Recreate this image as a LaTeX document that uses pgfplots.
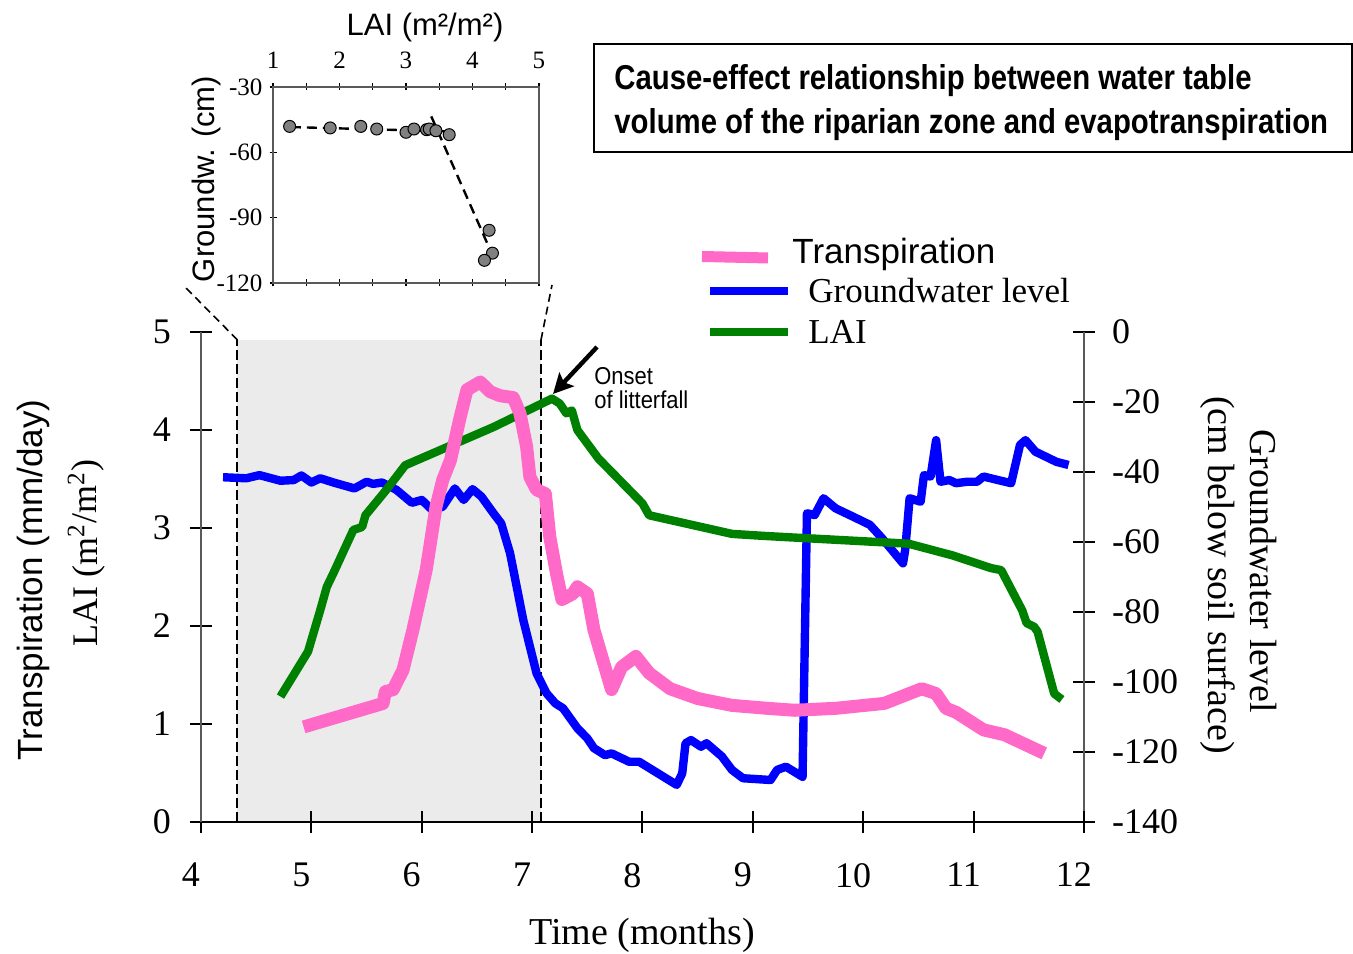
\documentclass[border=0pt]{standalone}
\usepackage{pgfplots}
\pgfplotsset{compat=1.18}
\usepackage{fontspec}
\setmainfont{Liberation Serif}
\setsansfont{Liberation Sans}
\newfontfamily\narrowbf{Liberation Sans Bold}[FakeStretch=0.85]
\newfontfamily\narrowsf{Liberation Sans}[FakeStretch=0.9]
\usetikzlibrary{arrows.meta}
\definecolor{tpink}{RGB}{255,105,200}
\definecolor{lgreen}{RGB}{0,128,0}
\definecolor{gwblue}{RGB}{0,0,255}
\definecolor{shade}{RGB}{235,235,235}
\definecolor{axgray}{RGB}{90,90,90}
\newcommand{\fs}[1]{\fontsize{#1}{#1}\selectfont}

\pgfplotstableread{
x y
4.93 0.97
5.65 1.21
5.67 1.33
5.74 1.35
5.83 1.55
5.92 1.96
6.04 2.57
6.13 3.22
6.19 3.49
6.26 3.69
6.35 4.14
6.41 4.41
6.53 4.49
6.62 4.39
6.71 4.35
6.83 4.33
6.89 4.17
6.95 3.83
6.98 3.52
7.04 3.39
7.12 3.35
7.16 2.91
7.22 2.54
7.27 2.27
7.37 2.33
7.41 2.40
7.50 2.33
7.56 1.96
7.72 1.35
7.81 1.58
7.94 1.69
8.06 1.52
8.25 1.36
8.50 1.26
8.81 1.19
9.13 1.16
9.38 1.14
9.75 1.16
10.19 1.21
10.53 1.36
10.66 1.31
10.75 1.16
10.84 1.12
11.09 0.94
11.28 0.89
11.64 0.70
}\transp

\pgfplotstableread{
x y
4.72 1.28
4.97 1.74
5.08 2.16
5.14 2.40
5.20 2.54
5.38 2.98
5.46 3.01
5.49 3.13
5.68 3.39
5.85 3.64
6.65 4.03
7.18 4.32
7.25 4.27
7.31 4.17
7.36 4.20
7.41 4.00
7.60 3.71
8.00 3.25
8.06 3.13
8.81 2.94
9.09 2.92
9.25 2.91
10.41 2.84
10.81 2.72
11.16 2.59
11.25 2.57
11.44 2.16
11.48 2.03
11.55 1.99
11.58 1.94
11.73 1.31
11.80 1.25
}\lai

\pgfplotstableread{
x y
4.20 -41.5
4.41 -41.8
4.53 -40.9
4.72 -42.5
4.84 -42.3
4.91 -41.0
5.00 -43.0
5.08 -41.8
5.20 -43.0
5.39 -44.7
5.50 -42.8
5.56 -43.4
5.64 -43.0
5.77 -45.1
5.91 -48.8
6.00 -48.0
6.10 -51.0
6.19 -49.9
6.30 -44.7
6.38 -48.0
6.46 -44.9
6.54 -47.0
6.65 -51.8
6.72 -54.7
6.80 -63.2
6.92 -82.3
7.04 -97.5
7.13 -103.2
7.21 -106.1
7.28 -107.5
7.41 -113.2
7.50 -116.1
7.56 -118.9
7.66 -120.9
7.72 -120.4
7.88 -122.8
7.97 -122.8
8.31 -129.4
8.36 -126.1
8.39 -117.5
8.44 -116.6
8.53 -118.5
8.58 -117.5
8.72 -121.3
8.81 -125.1
8.91 -127.5
9.16 -128.0
9.22 -125.1
9.30 -124.2
9.45 -127.1
9.49 -51.8
9.56 -52.3
9.64 -47.5
9.75 -50.4
9.91 -52.8
10.06 -55.1
10.17 -58.9
10.36 -66.1
10.38 -62.3
10.42 -47.5
10.52 -48.5
10.55 -40.9
10.61 -41.3
10.66 -30.9
10.70 -42.8
10.78 -42.3
10.84 -43.2
10.94 -42.8
11.03 -42.8
11.09 -41.3
11.22 -42.3
11.34 -43.2
11.42 -32.3
11.47 -30.9
11.56 -34.2
11.75 -37.1
11.86 -38.0
}\gw

\pgfplotstableread{
x y
1.25 -48.1
1.86 -48.8
2.32 -48.1
2.56 -49.3
3.00 -50.8
3.12 -49.3
3.31 -49.6
3.35 -49.3
3.45 -50.1
3.65 -51.9
4.25 -95.8
4.30 -106.3
4.18 -109.6
}\inset

\begin{document}
\begin{tikzpicture}
\begin{scope}[shift={(-100.5pt,411pt)}, x=0.5pt, y=-0.5pt]
  \path[use as bounding box] (0,0) rectangle (1353,953);
\end{scope}

% groundwater (right axis)
\begin{axis}[at={(0pt,0pt)}, anchor=south west,
  width=441.5pt, height=245pt, scale only axis,
  xmin=4, xmax=12, ymin=-140, ymax=0,
  hide x axis, axis y line*=right,
  axis line style={-, line width=1pt, axgray},
  ytick={-140,-120,...,0},
  tick align=center, major tick length=11pt,
  tick style={line width=1pt, black},
  yticklabel style={font=\fs{18}, anchor=west, xshift=5pt},
  /pgf/number format/assume math mode=true,
  clip=false]
  \addplot[draw=none, fill=shade] coordinates {(4.33,-140) (4.33,-2.3) (7.08,-2.3) (7.08,-140)} -- cycle;
  \addplot[black, line width=1pt, dash pattern=on 5pt off 2pt] coordinates {(4.33,-140) (4.33,-2.3)};
  \addplot[black, line width=1pt, dash pattern=on 5pt off 2pt] coordinates {(7.08,-140) (7.08,-2.3)};
  \addplot[gwblue, line width=4.2pt, line join=round] table {\gw};
\end{axis}

% transpiration and LAI (left axis)
\begin{axis}[at={(0pt,0pt)}, anchor=south west,
  width=441.5pt, height=245pt, scale only axis,
  xmin=4, xmax=12, ymin=0, ymax=5,
  axis x line*=bottom, axis y line*=left,
  xtick={4,...,12}, ytick={0,...,5},
  tick align=center, major tick length=11pt,
  tick style={line width=1pt, black},
  x axis line style={-, line width=1pt, black},
  y axis line style={-, line width=1pt, axgray},
  ticklabel style={font=\fs{18}},
  xticklabel style={xshift=-5pt, yshift=-11.5pt},
  yticklabel style={xshift=-6pt},
  /pgf/number format/assume math mode=true,
  clip=false]
  \addplot[lgreen, line width=4.2pt, line join=round] table {\lai};
  \addplot[tpink, line width=6.5pt, line join=round] table {\transp};
\end{axis}

% inset
\begin{axis}[at={(36pt,269.5pt)}, anchor=south west,
  width=133pt, height=98pt, scale only axis,
  xmin=1, xmax=5, ymin=-120, ymax=-30,
  xtick={1,...,5}, minor xtick={1.5,2.5,3.5,4.5},
  ytick={-120,-90,-60,-30}, ytick pos=left,
  xticklabel pos=upper,
  tick align=center, major tick length=3.5pt, minor tick length=3.5pt,
  axis line style={line width=0.7pt, axgray},
  tick style={line width=0.7pt, black},
  ticklabel style={font=\fs{12.5}},
  xticklabel style={yshift=4pt},
  /pgf/number format/assume math mode=true,
  clip=false]
  \addplot[only marks, mark=*, mark size=3pt, mark options={fill=gray, draw=black, line width=0.5pt}] table {\inset};
  \addplot[black, line width=1.2pt, dash pattern=on 5pt off 3pt] coordinates {(1.27,-48.4) (3.65,-50.4)};
  \addplot[black, line width=1.2pt, dash pattern=on 5pt off 3pt] coordinates {(3.38,-43.5) (4.29,-106.5)};
\end{axis}

\begin{scope}[shift={(-100.5pt,411pt)}, x=0.5pt, y=-0.5pt]
  % connecting dashed lines
  \draw[black, line width=0.8pt, dash pattern=on 4pt off 2.5pt] (237.5,340) -- (184,286);
  \draw[black, line width=0.8pt, dash pattern=on 4pt off 2.5pt] (541,340) -- (552,285);
  % title box
  \draw[black, line width=1pt] (594,44) rectangle (1352,152);
  \node[anchor=base west, inner sep=0pt] at (614,90) {\narrowbf\fs{17.25}Cause-effect relationship between water table};
  \node[anchor=base west, inner sep=0pt] at (614,134) {\narrowbf\fs{17.25}volume of the riparian zone and evapotranspiration};
  % annotation
  \draw[black, line width=2.2pt, -{Stealth[length=10pt, width=10pt, inset=2pt]}] (597,347) -- (553,394);
  \node[anchor=north west, inner sep=0pt, align=left, font=\narrowsf\fontsize{12.2}{12}\selectfont] at (594,367) {Onset\\of litterfall};
  % legend
  \draw[tpink, line width=5.5pt] (702,256.5) -- (768,258);
  \node[anchor=base west, inner sep=0pt] at (792,263.3) {\sffamily\fs{17.5}Transpiration};
  \draw[gwblue, line width=4pt] (710,291) -- (788,291);
  \node[anchor=base west, inner sep=0pt] at (808,302.7) {\fs{17.5}Groundwater level};
  \draw[lgreen, line width=4pt] (710,331.7) -- (788,331.7);
  \node[anchor=base west, inner sep=0pt] at (808,343.3) {\fs{17.5}LAI};
  % axis labels
  \node[rotate=90, anchor=base, inner sep=0pt] at (43,580) {\sffamily\fs{17.5}Transpiration (mm/day)};
  \node[rotate=90, anchor=base, inner sep=0pt] at (97,553) {\fs{18}LAI (m\textsuperscript{2}/m\textsuperscript{2})};
  \node[rotate=-90, anchor=base, inner sep=0pt] at (1250,571) {\fs{19}Groundwater level};
  \node[rotate=-90, anchor=base, inner sep=0pt] at (1208,575) {\fs{19}(cm below soil surface)};
  \node[anchor=base, inner sep=0pt] at (642,945) {\fs{19}Time (months)};
  \node[anchor=base, inner sep=0pt] at (425,36) {\sffamily\fs{15.5}LAI (m²/m²)};
  \node[rotate=90, anchor=base, inner sep=0pt] at (214,179) {\sffamily\fs{15.5}Groundw. (cm)};
\end{scope}
\end{tikzpicture}
\end{document}
